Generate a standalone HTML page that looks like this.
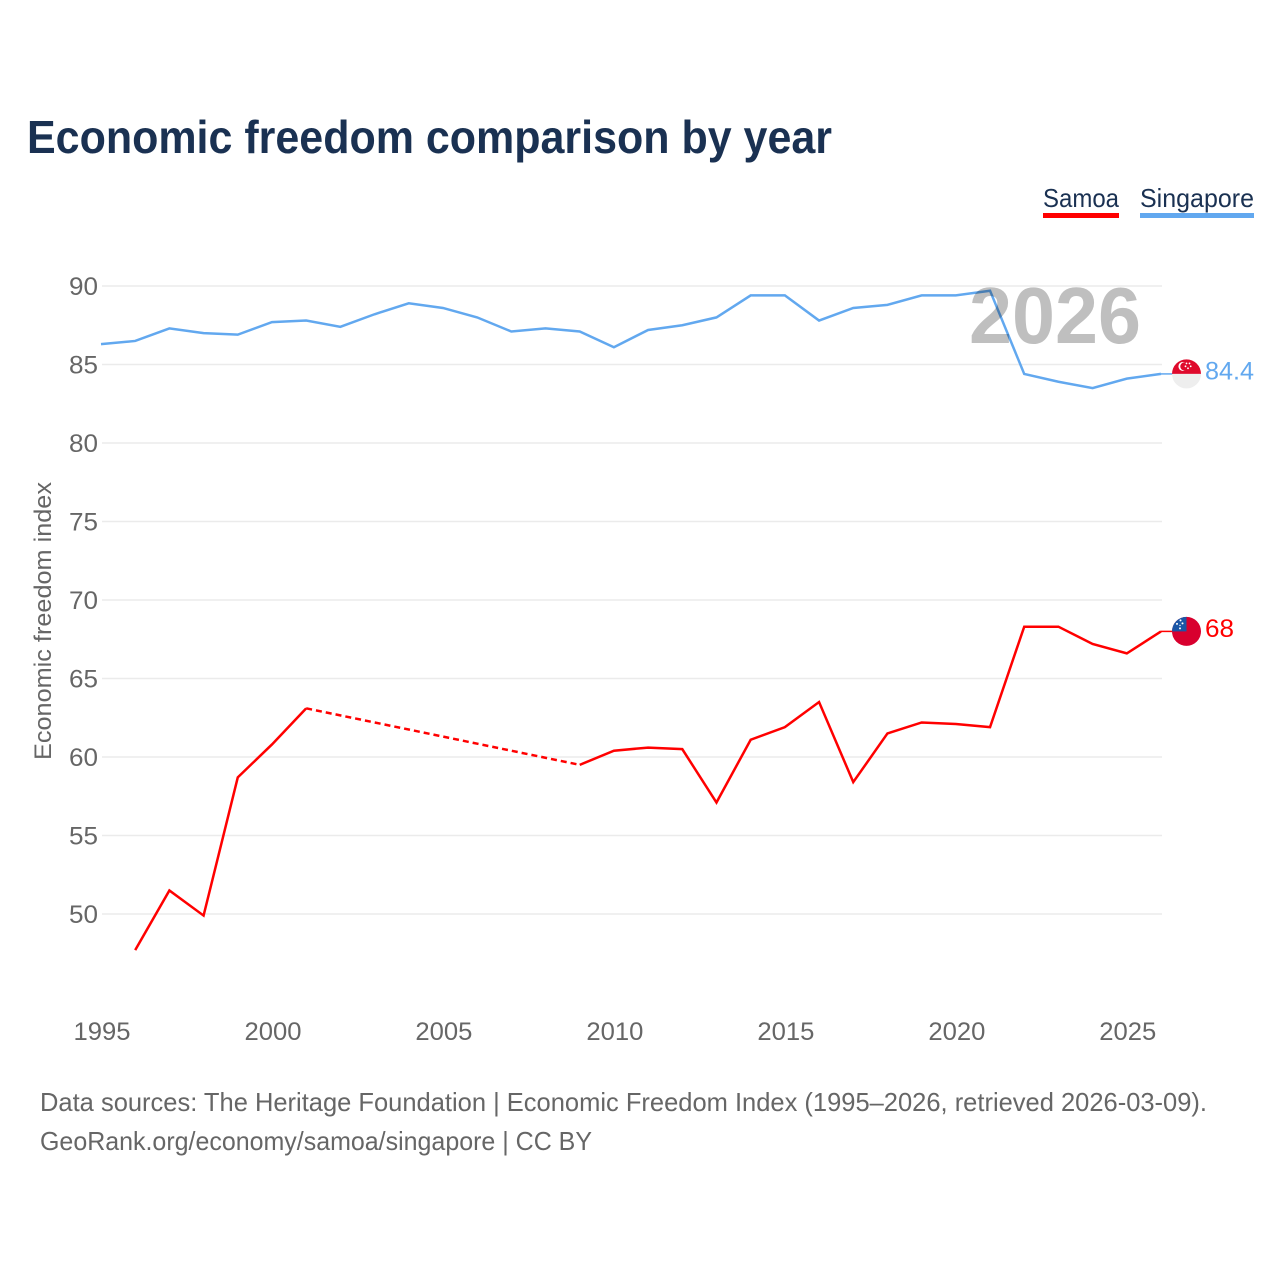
<!DOCTYPE html>
<html lang="en">
<head>
<meta charset="utf-8">
<title>Economic freedom comparison by year</title>
<style>
  html, body { margin: 0; padding: 0; background: #fff; }
  svg { display: block; font-family: "Liberation Sans", sans-serif; }
</style>
</head>
<body>
<svg id="chart" xmlns="http://www.w3.org/2000/svg" width="1280" height="1280" viewBox="0 0 1280 1280">
  <rect width="1280" height="1280" fill="#ffffff"/>
  <text x="27" y="153" font-size="46" font-weight="700" fill="#1a3152" textLength="805" lengthAdjust="spacingAndGlyphs">Economic freedom comparison by year</text>

  <g>
    <text x="1043" y="207" font-size="26" fill="#1a3152" textLength="76" lengthAdjust="spacingAndGlyphs">Samoa</text>
    <rect x="1043" y="213" width="76" height="5" fill="#ff0000"/>
    <text x="1140" y="207" font-size="26" fill="#1a3152" textLength="114" lengthAdjust="spacingAndGlyphs">Singapore</text>
    <rect x="1140" y="213" width="114" height="5" fill="#62a8ef"/>
  </g>

  <g id="grid"></g>
  <g id="yticks"></g>
  <g id="xticks"></g>
  <text transform="translate(51 760) rotate(-90)" font-size="24" fill="#666666" textLength="278" lengthAdjust="spacingAndGlyphs">Economic freedom index</text>

  <g id="series"></g>

  <text x="969" y="343" font-size="80" font-weight="700" fill="#000000" fill-opacity="0.25" textLength="172" lengthAdjust="spacingAndGlyphs">2026</text>

  <defs>
    <clipPath id="clip-sg"><circle cx="0" cy="0" r="14.5"/></clipPath>
    <clipPath id="clip-ws"><circle cx="0" cy="0" r="14.5"/></clipPath>
  </defs>

  <g id="flag-singapore">
    <g clip-path="url(#clip-sg)">
      <rect x="-15" y="-15" width="30" height="15" fill="#df0a2c"/>
      <rect x="-15" y="0" width="30" height="15" fill="#eeeeee"/>
      <circle cx="-3.5" cy="-7.5" r="4.6" fill="#ffffff"/>
      <circle cx="-2" cy="-7.5" r="4.2" fill="#df0a2c"/>
      <circle cx="0" cy="-10.5" r="0.9" fill="#ffffff"/>
      <circle cx="3" cy="-10.5" r="0.9" fill="#ffffff"/>
      <circle cx="4.2" cy="-7.6" r="0.9" fill="#ffffff"/>
      <circle cx="1.5" cy="-5.6" r="0.9" fill="#ffffff"/>
      <circle cx="-1" cy="-7.6" r="0.9" fill="#ffffff"/>
    </g>
  </g>
  <g id="flag-samoa">
    <g clip-path="url(#clip-ws)">
      <rect x="-15" y="-15" width="30" height="30" fill="#d8002e"/>
      <rect x="-15" y="-15" width="15" height="15" fill="#1a56a6"/>
      <circle cx="-6" cy="-11" r="1" fill="#ffffff"/>
      <circle cx="-9.5" cy="-7.5" r="1" fill="#ffffff"/>
      <circle cx="-4" cy="-8" r="1" fill="#ffffff"/>
      <circle cx="-6.5" cy="-6" r="0.7" fill="#ffffff"/>
      <circle cx="-6.5" cy="-3" r="1" fill="#ffffff"/>
    </g>
  </g>
  <text id="label-singapore" x="1205" font-size="25" fill="#62a8ef" textLength="49" lengthAdjust="spacingAndGlyphs"></text>
  <text id="label-samoa" x="1205" font-size="25" fill="#ff0000" textLength="29" lengthAdjust="spacingAndGlyphs"></text>

  <text x="40" y="1111" font-size="26" fill="#666666" textLength="1167" lengthAdjust="spacingAndGlyphs">Data sources: The Heritage Foundation | Economic Freedom Index (1995–2026, retrieved 2026-03-09).</text>
  <text x="40" y="1150" font-size="26" fill="#666666" textLength="552" lengthAdjust="spacingAndGlyphs">GeoRank.org/economy/samoa/singapore | CC BY</text>
</svg>

<script>
const years = [1995,1996,1997,1998,1999,2000,2001,2002,2003,2004,2005,2006,2007,2008,2009,2010,2011,2012,2013,2014,2015,2016,2017,2018,2019,2020,2021,2022,2023,2024,2025,2026];
const singaporeValues = [86.3,86.5,87.3,87.0,86.9,87.7,87.8,87.4,88.2,88.9,88.6,88.0,87.1,87.3,87.1,86.1,87.2,87.5,88.0,89.4,89.4,87.8,88.6,88.8,89.4,89.4,89.7,84.4,83.9,83.5,84.1,84.4];
const samoaValues = [null,47.7,51.5,49.9,58.7,60.8,63.1,null,null,null,null,null,null,null,59.5,60.4,60.6,60.5,57.1,61.1,61.9,63.5,58.4,61.5,62.2,62.1,61.9,68.3,68.3,67.2,66.6,68.0];
const yTickValues = [50,55,60,65,70,75,80,85,90];
const xTickValues = [1995,2000,2005,2010,2015,2020,2025];

const NS = 'http://www.w3.org/2000/svg';
const xScale = function (year) { return 101 + (year - 1995) * (1060 / 31); };
const yScale = function (value) { return 914 - (value - 50) * (628 / 40); };

function make(tag, attrs, parent) {
  const el = document.createElementNS(NS, tag);
  Object.keys(attrs).forEach(function (k) { el.setAttribute(k, attrs[k]); });
  parent.appendChild(el);
  return el;
}

const gridGroup = document.getElementById('grid');
const yTickGroup = document.getElementById('yticks');
yTickValues.forEach(function (v) {
  const line = make('line', { x1: 102, x2: 1162, y1: yScale(v), y2: yScale(v), stroke: '#ebebeb', 'stroke-width': 1.5 }, gridGroup);
  
  
  const t = make('text', { x: 69, y: yScale(v) + 9, 'font-size': 25, fill: '#666666', textLength: 29, lengthAdjust: 'spacingAndGlyphs' }, yTickGroup);
  
  
  t.textContent = String(v);
});

const xTickGroup = document.getElementById('xticks');
xTickValues.forEach(function (y) {
  const t = make('text', { x: xScale(y) - 27.5, y: 1040, 'font-size': 25, fill: '#666666', textLength: 57, lengthAdjust: 'spacingAndGlyphs' }, xTickGroup);
  
  
  t.textContent = String(y);
});

const seriesGroup = document.getElementById('series');

function drawPolyline(points, color, dash, name) {
  const attrs = {
    points: points.map(function (p) { return p[0].toFixed(2) + ',' + p[1].toFixed(2); }).join(' '),
    fill: 'none', stroke: color, 'stroke-width': 2.5, 'stroke-linejoin': 'miter'
  };
  if (dash) { attrs['stroke-dasharray'] = dash; }
  const el = make('polyline', attrs, seriesGroup);
  
  
}

function drawSeries(values, color, name) {
  let run = [];
  let last = null;
  const flush = function () {
    if (run.length > 1) { drawPolyline(run, color, null, name + '-line'); }
    run = [];
  };
  values.forEach(function (v, i) {
    if (v === null) { flush(); return; }
    const pt = [xScale(years[i]), yScale(v)];
    if (last && years[i] - last.year > 1) {
      drawPolyline([last.pt, pt], color, '6 4', name + '-gap-line');
    }
    run.push(pt);
    last = { year: years[i], pt: pt };
  });
  flush();
}

drawSeries(singaporeValues, '#62a8ef', 'singapore');
drawSeries(samoaValues, '#ff0000', 'samoa');

function placeEnd(values, color, flagId, labelId, name) {
  const v = values[values.length - 1];
  const yy = yScale(v);
  const x0 = xScale(years[years.length - 1]);
  const c = make('line', { x1: x0, x2: x0 + 12, y1: yy, y2: yy, stroke: color, 'stroke-width': 1.5 }, seriesGroup);
  
  
  document.getElementById(flagId).setAttribute('transform', 'translate(1186.5 ' + yy.toFixed(2) + ')');
  const label = document.getElementById(labelId);
  label.setAttribute('y', (yy + 5.5).toFixed(2));
  label.textContent = String(v);
}

placeEnd(singaporeValues, '#62a8ef', 'flag-singapore', 'label-singapore', 'singapore');
placeEnd(samoaValues, '#ff0000', 'flag-samoa', 'label-samoa', 'samoa');
</script>
</body>
</html>
